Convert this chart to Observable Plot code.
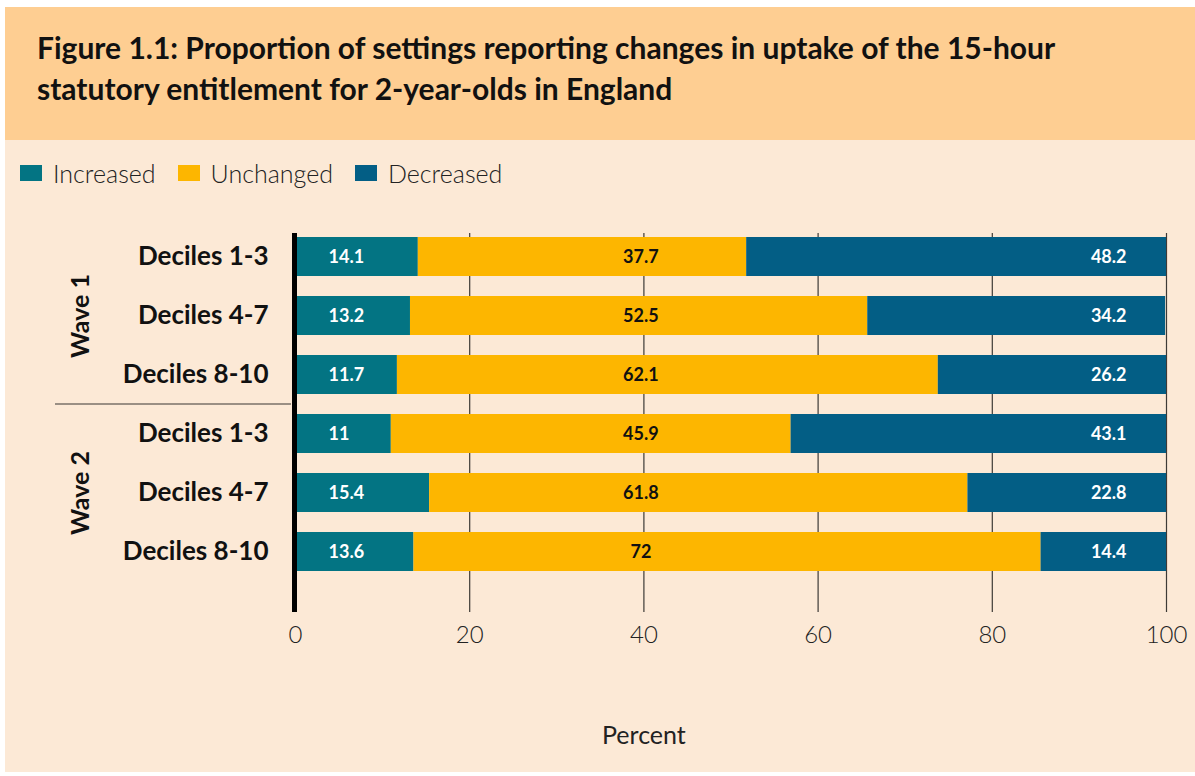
<!DOCTYPE html>
<html>
<head>
<meta charset="utf-8">
<script src="https://cdn.jsdelivr.net/npm/d3@7"></script>
<script src="https://cdn.jsdelivr.net/npm/@observablehq/plot@0.6"></script>
<style>
  html, body { margin: 0; padding: 0; background: #ffffff; }
  body { font-family: Lato, "Noto Sans", sans-serif; color: #111; }
  #wrap { position: absolute; left: 5px; top: 7px; width: 1190px; }
  #title { background: #FECE92; height: 133px; box-sizing: border-box; padding: 20px 0 0 32px;
           font-weight: 700; font-size: 30px; line-height: 41px; color: #111; }
  #panel { background: #FCE9D6; height: 632px; position: relative; }
  #legend { position: absolute; left: 15px; top: 18px; display: flex; align-items: center;
            font-weight: 300; font-size: 25px; color: #222; }
  .item { display: flex; align-items: center; margin-right: 22px; }
  .sw { width: 22px; height: 16px; margin-right: 11px; display: inline-block; }
  #chart { position: absolute; left: 0; top: 55px; }
</style>
</head>
<body>
<div id="wrap">
  <div id="title">Figure 1.1: Proportion of settings reporting changes in uptake of the 15-hour<br>statutory entitlement for 2-year-olds in England</div>
  <div id="panel">
    <div id="legend"></div>
    <div id="chart"></div>
  </div>
</div>
<script>
// ---- data ----
const waves = ["Wave 1", "Wave 2"];
const groups = ["Deciles 1-3", "Deciles 4-7", "Deciles 8-10"];
const categories = ["Increased", "Unchanged", "Decreased"];
const increased = [14.1, 13.2, 11.7, 11, 15.4, 13.6];
const unchanged = [37.7, 52.5, 62.1, 45.9, 61.8, 72];
const decreased = [48.2, 34.2, 26.2, 43.1, 22.8, 14.4];
const xTicks = [0, 20, 40, 60, 80, 100];
const xLabel = "Percent";

// ---- styles ----
const colors = ["#037483", "#FDB600", "#035E85"];

// ---- table ----
const keys = [];
waves.forEach(w => groups.forEach(g => keys.push(w + "|" + g)));
const seriesValues = [increased, unchanged, decreased];
const rows = [];
keys.forEach((k, i) => categories.forEach((c, j) => rows.push({key: k, category: c, value: seriesValues[j][i]})));
const waveRows = waves.map((w, i) => ({wave: w, key: keys[i * groups.length + 1]}));

// legend
const legend = document.getElementById("legend");
categories.forEach((c, i) => {
  const it = document.createElement("div");
  it.className = "item";
  it.innerHTML = `<span class="sw" style="background:${colors[i]}"></span><span>${c}</span>`;
  legend.appendChild(it);
});

const labelStyle = {fontSize: 18, fontWeight: 700, fontFamily: "Lato, sans-serif"};

const chart = Plot.plot({
  width: 1190,
  height: 575,
  marginLeft: 290,
  marginRight: 29,
  marginTop: 38,
  marginBottom: 158,
  style: {background: "transparent", fontFamily: "Lato, sans-serif", color: "#111"},
  x: {domain: [0, 100], axis: null},
  y: {domain: keys, range: [40.4, 378], paddingInner: 0.343, paddingOuter: 0, axis: null},
  color: {domain: categories, range: colors},
  marks: [
    Plot.ruleX(xTicks.filter(d => d > 0), {stroke: "#3d3a36", strokeWidth: 1.2}),
    Plot.barX(rows, Plot.stackX({x: "value", y: "key", fill: "category", order: categories})),
    Plot.ruleX([0], {stroke: "#000", strokeWidth: 5, dx: -1}),
    Plot.text(rows.filter(d => d.category === "Increased"), {x: 0, y: "key", text: d => String(d.value), dx: 33, textAnchor: "start", fill: "#fff", ...labelStyle}),
    Plot.text(rows.filter(d => d.category === "Unchanged"), {x: 40, y: "key", text: d => String(d.value), dx: -3, textAnchor: "middle", fill: "#111", ...labelStyle}),
    Plot.text(rows.filter(d => d.category === "Decreased"), {x: 100, y: "key", text: d => String(d.value), dx: -40, textAnchor: "end", fill: "#fff", ...labelStyle}),
    Plot.axisY({tickSize: 0, tickPadding: 27, fontSize: 26, fontWeight: 700, fill: "#111", label: null, tickFormat: k => k.split("|")[1]}),
    Plot.text(waveRows, {y: "key", text: "wave", frameAnchor: "left", textAnchor: "middle", dx: -215, rotate: -90, fontSize: 25, fontWeight: 700, fill: "#111"}),
    Plot.axisX({ticks: xTicks, tickSize: 0, tickPadding: 13, fontSize: 24, fontWeight: 300, fill: "#222", label: null}),
    Plot.text([xLabel], {x: 40, frameAnchor: "bottom", dy: 123, text: d => d, fontSize: 25, fontWeight: 400, fill: "#222", lineAnchor: "middle"})
  ]
});

document.getElementById("chart").appendChild(chart);

// wave separator placed with the y scale
const ys = chart.scale("y");
const k3 = keys[groups.length - 1], k4 = keys[groups.length];
const sepY = (ys.apply(k3) + ys.bandwidth + ys.apply(k4)) / 2;
d3.select(chart).append("line")
  .attr("x1", 50).attr("x2", 286)
  .attr("y1", sepY).attr("y2", sepY)
  .attr("stroke", "#7a7068").attr("stroke-width", 1.5);
</script>
</body>
</html>
